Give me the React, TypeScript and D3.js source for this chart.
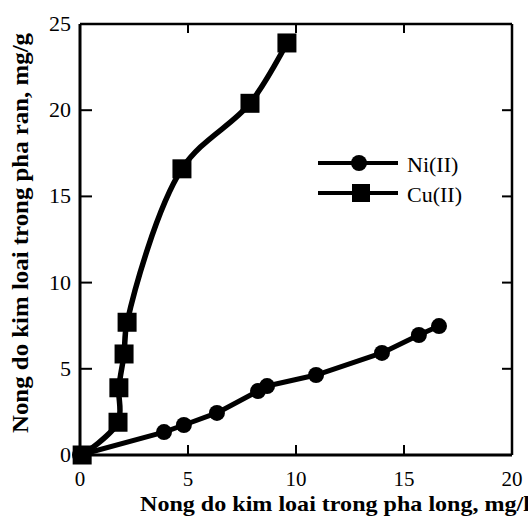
import React from 'react';
import * as d3 from 'd3';

const xTicks = [0, 5, 10, 15, 20];
const yTicks = [0, 5, 10, 15, 20, 25];
const niX = [0, 3.89, 4.81, 6.34, 8.24, 8.66, 10.93, 13.98, 15.69, 16.62];
const niY = [0, 1.33, 1.74, 2.44, 3.71, 4.0, 4.64, 5.92, 6.96, 7.48];
const cuX = [0.1, 1.76, 1.8, 2.04, 2.18, 4.72, 7.87, 9.58];
const cuY = [0, 1.9, 3.9, 5.86, 7.7, 16.6, 20.4, 23.9];
const seriesNames = ['Ni(II)', 'Cu(II)'];
const xTitle = 'Nong do kim loai trong pha long, mg/l';
const yTitle = 'Nong do kim loai trong pha ran, mg/g';

const FONT = '"Liberation Serif", "Times New Roman", serif';

export default function App() {
  const W = 528, H = 516;
  const x = d3.scaleLinear().domain([0, 20]).range([80, 512]);
  const y = d3.scaleLinear().domain([0, 25]).range([455, 24]);
  const ni = niX.map((v, i) => [v, niY[i]] as [number, number]);
  const cu = cuX.map((v, i) => [v, cuY[i]] as [number, number]);
  const niLine = d3.line<[number, number]>().x(d => x(d[0])).y(d => y(d[1])).curve(d3.curveLinear);
  const cuLine = d3.line<[number, number]>().x(d => x(d[0])).y(d => y(d[1])).curve(d3.curveCatmullRom.alpha(0.5));
  const x0 = x(0), x1 = x(20), y0 = y(0), y1 = y(25);
  const inner = [5, 10, 15];
  const innerY = [5, 10, 15, 20];
  const sq = 19;
  return (
    <svg width={W} height={H} style={{ position: 'absolute', left: 0, top: 0, background: '#fff' }} fontFamily={FONT}>
      <rect x={0} y={0} width={W} height={H} fill="#fff" />
      {/* frame */}
      <line x1={x0} y1={y1} x2={x0} y2={y0} stroke="#000" strokeWidth={3} />
      <line x1={x0} y1={y0} x2={x1} y2={y0} stroke="#000" strokeWidth={3} />
      <line x1={x0} y1={y1} x2={x1} y2={y1} stroke="#000" strokeWidth={2.5} />
      <line x1={x1} y1={y1} x2={x1} y2={y0} stroke="#000" strokeWidth={2.5} />
      {inner.map(t => (
        <g key={'xt' + t}>
          <line x1={x(t)} x2={x(t)} y1={y0} y2={y0 - 10} stroke="#000" strokeWidth={2} />
          <line x1={x(t)} x2={x(t)} y1={y1} y2={y1 + 9} stroke="#000" strokeWidth={2} />
        </g>
      ))}
      {innerY.map(t => (
        <g key={'yt' + t}>
          <line x1={x0} x2={x0 + 12} y1={y(t)} y2={y(t)} stroke="#000" strokeWidth={2} />
          <line x1={x1} x2={x1 - 10} y1={y(t)} y2={y(t)} stroke="#000" strokeWidth={2} />
        </g>
      ))}
      {xTicks.map(t => (
        <text key={'xl' + t} x={x(t)} y={486} fontSize={21} textAnchor="middle">{t}</text>
      ))}
      {yTicks.map(t => (
        <text key={'yl' + t} x={71} y={y(t) + 7} fontSize={22} textAnchor="end">{t}</text>
      ))}
      {/* titles */}
      <text x={140} y={511} fontSize={21} fontWeight="bold" textLength={390} lengthAdjust="spacingAndGlyphs">{xTitle}</text>
      <text transform="translate(28,433) rotate(-90)" x={0} y={0} fontSize={23} fontWeight="bold" textLength={400} lengthAdjust="spacingAndGlyphs">{yTitle}</text>
      {/* series */}
      <path d={niLine(ni) || ''} fill="none" stroke="#000" strokeWidth={5} strokeLinejoin="round" strokeLinecap="round" />
      <path d={cuLine(cu) || ''} fill="none" stroke="#000" strokeWidth={5.5} strokeLinejoin="round" strokeLinecap="round" />
      {ni.map((d, i) => (
        <circle key={'n' + i} cx={x(d[0])} cy={y(d[1])} r={8} fill="#000" />
      ))}
      {cu.map((d, i) => (
        <rect key={'c' + i} x={x(d[0]) - sq / 2} y={y(d[1]) - sq / 2} width={sq} height={sq} fill="#000" />
      ))}
      {/* legend */}
      <line x1={318} x2={398} y1={163} y2={163} stroke="#000" strokeWidth={4} />
      <circle cx={359} cy={163} r={8} fill="#000" />
      <text x={407} y={172} fontSize={22}>{seriesNames[0]}</text>
      <line x1={318} x2={398} y1={193} y2={193} stroke="#000" strokeWidth={4} />
      <rect x={361 - 9} y={193 - 9} width={18} height={18} fill="#000" />
      <text x={407} y={202} fontSize={22}>{seriesNames[1]}</text>
    </svg>
  );
}
